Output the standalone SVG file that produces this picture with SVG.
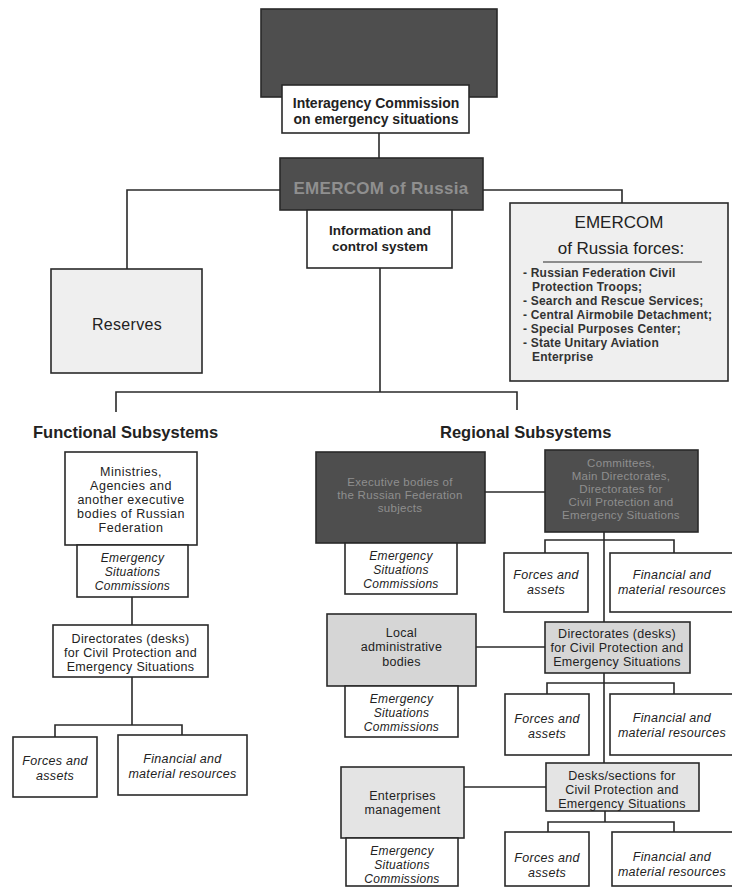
<svg xmlns="http://www.w3.org/2000/svg" width="732" height="889" viewBox="0 0 732 889">
<style>
.box{stroke:#2a2a2a;stroke-width:1.6}
.w{fill:#ffffff}
.lg{fill:#efefef}
.mg{fill:#d6d6d6}
.pg{fill:#e4e4e4}
.dk{fill:#4e4e4e}
.ln{fill:none;stroke:#2a2a2a;stroke-width:1.6}
text{font-family:"Liberation Sans",Arial,sans-serif;font-size:12.5px;fill:#222;text-anchor:middle;letter-spacing:0.3px}
.b{font-weight:bold}
.i{font-style:italic}
.g{fill:#8f8f8f;font-size:11.5px}
.h{font-size:16.5px;font-weight:bold;text-anchor:start;letter-spacing:0}
.st{text-anchor:start}
.li{font-size:12px;font-weight:bold;fill:#333;text-anchor:start;letter-spacing:0.2px}
.e{font-size:12px;font-style:italic}
</style>
<rect width="732" height="889" fill="#ffffff"/>
<g id="connectors">
<path class="ln" d="M379 133V158"/>
<path class="ln" d="M280 190H127V269"/>
<path class="ln" d="M483 190H622V203"/>
<path class="ln" d="M380 268V392"/>
<path class="ln" d="M116 412V392H517V410"/>
<path class="ln" d="M132 597V625"/>
<path class="ln" d="M132 677V725"/>
<path class="ln" d="M55 737V725H182V735"/>
<path class="ln" d="M485 492H545"/>
<path class="ln" d="M604 532V622"/>
<path class="ln" d="M545 553V540H674V553"/>
<path class="ln" d="M476 647H545"/>
<path class="ln" d="M604 673V763"/>
<path class="ln" d="M547 694V683H674V694"/>
<path class="ln" d="M464 787H546"/>
<path class="ln" d="M605 811V822"/>
<path class="ln" d="M548 832V822H674V832"/>
</g>
<g id="top">
<rect class="box dk" x="261" y="9" width="236" height="88"/>
</g>
<g id="interagency">
<rect class="box w" x="282" y="85" width="187" height="48"/>
<text class="b" x="376" y="108" style="font-size:14px;letter-spacing:0">Interagency Commission</text>
<text class="b" x="376" y="124" style="font-size:14px;letter-spacing:0">on emergency situations</text>
</g>
<g id="emercom">
<rect class="box dk" x="280" y="158" width="203" height="52"/>
<text class="b" x="381" y="194" style="font-size:17px;fill:#8f8f8f">EMERCOM of Russia</text>
</g>
<g id="info">
<rect class="box w" x="307" y="210" width="145" height="58"/>
<text class="b" x="380" y="235" style="font-size:13.5px;letter-spacing:0">Information and</text>
<text class="b" x="380" y="251" style="font-size:13.5px;letter-spacing:0">control system</text>
</g>
<g id="reserves">
<rect class="box lg" x="51" y="269" width="151" height="104"/>
<text x="127" y="330" style="font-size:16px">Reserves</text>
</g>
<g id="forces">
<rect class="box lg" x="510" y="203" width="218" height="178"/>
<text x="619" y="228" style="font-size:17px;letter-spacing:0">EMERCOM</text>
<text x="621" y="254" style="font-size:17px;letter-spacing:0">of Russia forces:</text>
<path class="ln" d="M543 262H702" style="stroke-width:1.2"/>
<text class="li" x="523" y="277">- Russian Federation Civil</text>
<text class="li" x="532" y="291">Protection Troops;</text>
<text class="li" x="523" y="305">- Search and Rescue Services;</text>
<text class="li" x="523" y="319">- Central Airmobile Detachment;</text>
<text class="li" x="523" y="333">- Special Purposes Center;</text>
<text class="li" x="523" y="347">- State Unitary Aviation</text>
<text class="li" x="532" y="361">Enterprise</text>
</g>
<g id="functional-title"><text class="h" x="33" y="438">Functional Subsystems</text></g>
<g id="regional-title"><text class="h" x="440" y="438">Regional Subsystems</text></g>
<g id="ministries">
<rect class="box w" x="65" y="452" width="132" height="93"/>
<text x="131" y="476" style="letter-spacing:0.5px">Ministries,</text>
<text x="131" y="490" style="letter-spacing:0.5px">Agencies and</text>
<text x="131" y="504" style="letter-spacing:0.5px">another executive</text>
<text x="131" y="518" style="letter-spacing:0.5px">bodies of Russian</text>
<text x="131" y="532" style="letter-spacing:0.5px">Federation</text>
</g>
<g id="esc-functional">
<rect class="box w" x="77" y="545" width="111" height="52"/>
<text class="e" x="132.5" y="562">Emergency</text>
<text class="e" x="132.5" y="576">Situations</text>
<text class="e" x="132.5" y="590">Commissions</text>
</g>
<g id="directorates-functional">
<rect class="box w" x="53" y="625" width="155" height="52"/>
<text x="130.5" y="643">Directorates (desks)</text>
<text x="130.5" y="657">for Civil Protection and</text>
<text x="130.5" y="671">Emergency Situations</text>
</g>
<g id="forces-functional">
<rect class="box w" x="13" y="737" width="84" height="60"/>
<text class="i" x="55" y="765">Forces and</text>
<text class="i" x="55" y="780">assets</text>
</g>
<g id="financial-functional">
<rect class="box w" x="118" y="735" width="129" height="60"/>
<text class="i" x="182.5" y="763">Financial and</text>
<text class="i" x="182.5" y="778">material resources</text>
</g>
<g id="executive-bodies">
<rect class="box dk" x="316" y="452" width="169" height="91"/>
<text class="g" x="400" y="486">Executive bodies of</text>
<text class="g" x="400" y="499">the Russian Federation</text>
<text class="g" x="400" y="512">subjects</text>
</g>
<g id="esc-regional-1">
<rect class="box w" x="345" y="543" width="112" height="51"/>
<text class="e" x="401" y="560">Emergency</text>
<text class="e" x="401" y="574">Situations</text>
<text class="e" x="401" y="588">Commissions</text>
</g>
<g id="committees">
<rect class="box dk" x="545" y="450" width="153" height="82"/>
<text class="g" x="621" y="467">Committees,</text>
<text class="g" x="621" y="480">Main Directorates,</text>
<text class="g" x="621" y="493">Directorates for</text>
<text class="g" x="621" y="506">Civil Protection and</text>
<text class="g" x="621" y="519">Emergency Situations</text>
</g>
<g id="forces-regional-1">
<rect class="box w" x="504" y="553" width="84" height="59"/>
<text class="i" x="546" y="579">Forces and</text>
<text class="i" x="546" y="594">assets</text>
</g>
<g id="financial-regional-1">
<rect class="box w" x="610" y="553" width="125" height="59"/>
<text class="i" x="672" y="579">Financial and</text>
<text class="i" x="672" y="594">material resources</text>
</g>
<g id="local-admin">
<rect class="box mg" x="327" y="614" width="149" height="72"/>
<text x="401.5" y="637">Local</text>
<text x="401.5" y="651">administrative</text>
<text x="401.5" y="666">bodies</text>
</g>
<g id="esc-regional-2">
<rect class="box w" x="345" y="686" width="113" height="51"/>
<text class="e" x="401.5" y="703">Emergency</text>
<text class="e" x="401.5" y="717">Situations</text>
<text class="e" x="401.5" y="731">Commissions</text>
</g>
<g id="directorates-regional">
<rect class="box mg" x="545" y="622" width="145" height="51"/>
<text x="617" y="638">Directorates (desks)</text>
<text x="617" y="652">for Civil Protection and</text>
<text x="617" y="666">Emergency Situations</text>
</g>
<g id="forces-regional-2">
<rect class="box w" x="505" y="694" width="84" height="61"/>
<text class="i" x="547" y="723">Forces and</text>
<text class="i" x="547" y="738">assets</text>
</g>
<g id="financial-regional-2">
<rect class="box w" x="610" y="694" width="125" height="61"/>
<text class="i" x="672" y="722">Financial and</text>
<text class="i" x="672" y="737">material resources</text>
</g>
<g id="enterprises">
<rect class="box pg" x="341" y="767" width="123" height="71"/>
<text x="402.5" y="800">Enterprises</text>
<text x="402.5" y="814">management</text>
</g>
<g id="esc-regional-3">
<rect class="box w" x="346" y="838" width="112" height="48"/>
<text class="e" x="402" y="855">Emergency</text>
<text class="e" x="402" y="869">Situations</text>
<text class="e" x="402" y="883">Commissions</text>
</g>
<g id="desks">
<rect class="box pg" x="546" y="763" width="153" height="48"/>
<text x="622" y="780">Desks/sections for</text>
<text x="622" y="794">Civil Protection and</text>
<text x="622" y="808">Emergency Situations</text>
</g>
<g id="forces-regional-3">
<rect class="box w" x="505" y="832" width="84" height="54"/>
<text class="i" x="547" y="862">Forces and</text>
<text class="i" x="547" y="877">assets</text>
</g>
<g id="financial-regional-3">
<rect class="box w" x="612" y="832" width="125" height="54"/>
<text class="i" x="672" y="861">Financial and</text>
<text class="i" x="672" y="876">material resources</text>
</g>
</svg>
